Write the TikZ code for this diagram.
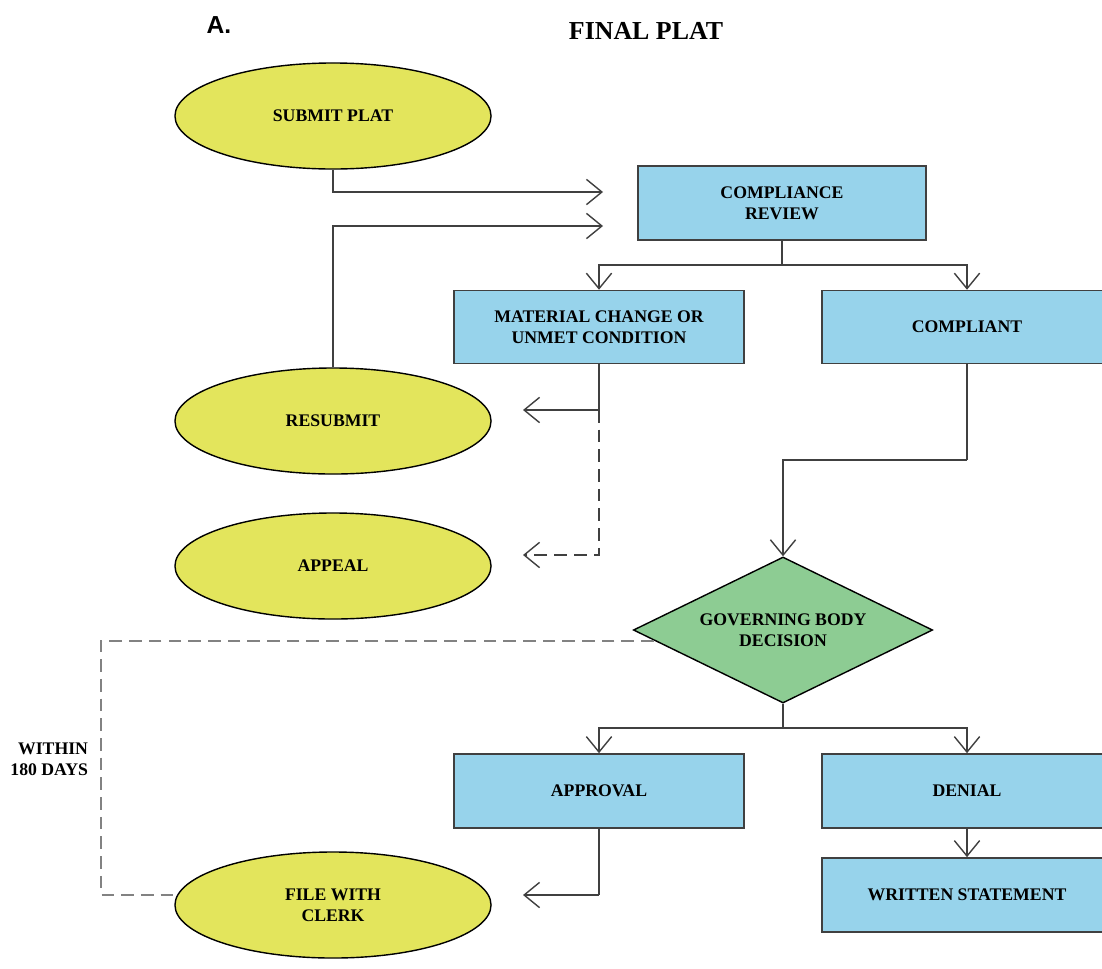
\documentclass[tikz,border=0pt]{standalone}
\usepackage{fontspec}
\setmainfont{Liberation Serif}
\newfontfamily\sanslabel{Liberation Sans}
\usetikzlibrary{shapes,arrows.meta}
\definecolor{ovalfill}{RGB}{227,229,92}
\definecolor{boxfill}{RGB}{151,211,235}
\definecolor{decfill}{RGB}{141,204,147}
\definecolor{linecol}{RGB}{64,64,64}
\definecolor{dashcol}{RGB}{130,130,130}
\tikzstyle{oval}=[ellipse,draw=black,line width=1pt,fill=ovalfill,minimum width=7.9cm,minimum height=2.65cm,inner sep=0pt,align=center,font=\fontsize{12.6}{15}\selectfont\bfseries]
\tikzstyle{proc}=[rectangle,draw=linecol,line width=1.2pt,fill=boxfill,minimum width=7.25cm,minimum height=1.82cm,inner sep=0pt,align=center,font=\fontsize{12.6}{15}\selectfont\bfseries]
\tikzstyle{decision}=[diamond,draw=black,line width=1pt,fill=decfill,aspect=2,minimum width=7.48cm,minimum height=3.65cm,inner sep=0pt,align=center,font=\fontsize{12.6}{15}\selectfont\bfseries]
\tikzstyle{flow}=[draw=linecol,line width=1pt,-{Straight Barb[length=11pt,width=18pt,line width=1pt]}]
\tikzstyle{plain}=[draw=linecol,line width=1pt]
\tikzstyle{dflow}=[flow,dashed,dash pattern=on 9pt off 5pt]

\begin{document}
\begin{tikzpicture}[x=0.025cm,y=-0.025cm]
\clip (0,0) rectangle (1102,968);
\fill[white] (0,0) rectangle (1102,968);
% headings
\node[font=\sanslabel\bfseries\fontsize{17.5}{20}\selectfont] (tag) at (219,25) {A.};
\node[font=\bfseries\fontsize{18.4}{21}\selectfont] (title) at (646,31) {FINAL PLAT};
% ovals
\node[oval] (submit) at (333,116) {SUBMIT PLAT};
\node[oval] (resubmit) at (333,421) {RESUBMIT};
\node[oval] (appeal) at (333,566) {APPEAL};
\node[oval] (clerk) at (333,905) {FILE WITH\\CLERK};
% boxes
\node[proc,minimum height=1.85cm,minimum width=7.2cm] (review) at (782,203) {COMPLIANCE\\REVIEW};
\node[proc] (material) at (599,327) {MATERIAL CHANGE OR\\UNMET CONDITION};
\node[proc] (compliant) at (967,327) {COMPLIANT};
\node[decision] (decide) at (783,630) {GOVERNING BODY\\DECISION};
\node[proc,minimum height=1.85cm] (approval) at (599,791) {APPROVAL};
\node[proc,minimum height=1.85cm] (denial) at (967,791) {DENIAL};
\node[proc,minimum height=1.85cm] (statement) at (967,895) {WRITTEN STATEMENT};
\node[font=\bfseries\fontsize{12.6}{15}\selectfont,align=right,anchor=east] (within) at (93,759) {WITHIN\\180 DAYS};
% free ends
\coordinate (in1) at (603,192);
\coordinate (in2) at (603,226);
\coordinate (split1) at (782,265);
\coordinate (mat1) at (599,410);
\coordinate (mat2) at (599,555);
\coordinate (comp1) at (967,460);
\coordinate (split2) at (783,728);
\coordinate (appr1) at (599,895);
\coordinate (dcorner1) at (101,641);
\coordinate (dcorner2) at (101,895);
% connectors
\draw[flow] (submit.south) |- (in1);
\draw[flow] (resubmit.north) |- (in2);
\draw[plain] (review.south) -- (split1);
\draw[flow] (split1) -| (material.north);
\draw[flow] (split1) -| (compliant.north);
\draw[plain] (material.south) -- (mat1);
\draw[flow] (mat1) -- (523,410);
\draw[dflow] (mat1) -- (mat2) -- (523,555);
\draw[plain] (compliant.south) -- (comp1);
\draw[flow] (comp1) -| (decide.north);
\draw[plain] (decide.south) -- (split2);
\draw[flow] (split2) -| (approval.north);
\draw[flow] (split2) -| (denial.north);
\draw[flow] (denial.south) -- (statement.north);
\draw[plain] (approval.south) -- (appr1);
\draw[flow] (appr1) -- (523,895);
\draw[draw=dashcol,line width=1pt,dash pattern=on 9pt off 5pt] (decide.west |- dcorner1) ++(21,0) -- (dcorner1) -- (dcorner2) -- (clerk.west |- dcorner2);
\end{tikzpicture}
\end{document}
